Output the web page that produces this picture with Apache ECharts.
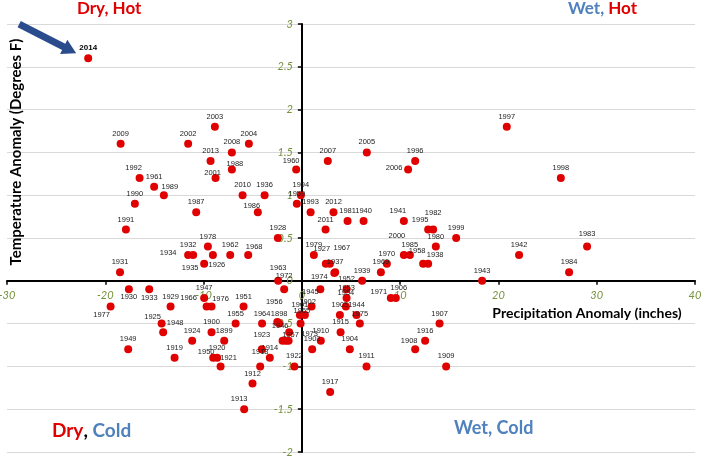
<!DOCTYPE html>
<html><head><meta charset="utf-8">
<script src="https://cdn.jsdelivr.net/npm/echarts@6/dist/echarts.min.js"></script>
<style>html,body{margin:0;padding:0;background:#fff;}#c{width:702px;height:458px;}</style>
</head><body><div id="c"></div>
<script>
// ---- data ----
const years = [1895,1896,1898,1899,1900,1901,1902,1903,1904,1905,1906,1907,1908,1909,1910,1911,1912,1913,1914,1915,1916,1917,1918,1919,1920,1921,1922,1923,1924,1925,1926,1927,1928,1929,1930,1931,1932,1933,1934,1935,1936,1937,1938,1939,1940,1941,1942,1943,1944,1945,1946,1947,1948,1949,1950,1951,1952,1953,1954,1955,1956,1957,1958,1959,1960,1961,1962,1963,1964,1965,1966,1967,1968,1969,1970,1971,1972,1973,1974,1975,1976,1977,1978,1979,1980,1981,1982,1983,1984,1985,1986,1987,1988,1989,1990,1991,1992,1993,1994,1995,1996,1997,1998,1999,2000,2001,2002,2003,2004,2005,2006,2007,2008,2009,2010,2011,2012,2013,2014];
const precipAnomaly = [-1.96,-1.63,-2.31,-7.90,-9.19,-0.20,0.99,1.05,4.88,3.87,9.56,14.01,11.53,14.68,1.93,6.58,-5.02,-5.87,-3.26,3.94,12.54,2.88,-4.24,-12.95,-8.62,-8.27,-0.76,-4.07,-11.16,-14.27,-9.05,2.44,-2.44,-13.36,-17.60,-18.50,-11.57,-15.53,-11.06,-9.94,-3.79,3.39,12.85,6.13,6.28,10.38,22.10,18.34,5.56,1.88,-1.29,-9.94,-14.11,-17.67,-9.02,-5.93,4.55,4.55,4.48,-6.74,-2.50,-1.35,12.34,-0.51,-0.58,-15.03,-7.29,-2.41,-4.05,0.31,-9.69,2.85,-5.46,8.04,8.65,9.05,-1.80,-0.13,3.30,5.90,-9.19,-19.46,-9.56,1.22,13.63,4.65,13.36,29.02,27.19,10.99,-4.48,-10.75,-7.12,-14.04,-16.99,-17.90,-16.51,0.89,-0.10,12.85,11.53,20.85,26.35,15.70,10.38,-8.78,-11.57,-8.85,-5.39,6.61,10.81,2.64,-7.12,-18.44,-6.03,2.41,3.22,-9.29,-21.74];
const tempAnomaly = [-0.7,-0.7,-0.5,-0.7,-0.6,-0.4,-0.3,-0.8,-0.8,-0.4,-0.2,-0.5,-0.8,-1.0,-0.7,-1.0,-1.2,-1.5,-0.9,-0.6,-0.7,-1.3,-1.0,-0.9,-0.9,-1.0,-1.0,-0.8,-0.7,-0.5,0.3,0.2,0.5,-0.3,-0.1,0.1,0.3,-0.1,0.3,0.2,1.0,0.1,0.2,0.0,0.7,0.7,0.3,0.0,-0.4,-0.1,-0.6,-0.2,-0.6,-0.8,-0.9,-0.3,-0.1,-0.2,-0.3,-0.5,-0.48,-0.7,0.2,0.9,1.3,1.1,0.3,0.0,-0.5,-0.4,-0.3,0.2,0.3,0.1,0.2,-0.2,-0.1,-0.5,0.09,-0.5,-0.3,-0.3,0.4,0.3,0.4,0.7,0.6,0.4,0.1,0.3,0.8,0.8,1.3,1.0,0.9,0.6,1.2,0.8,1.0,0.6,1.4,1.8,1.2,0.5,0.3,1.2,1.6,1.8,1.6,1.5,1.3,1.4,1.5,1.6,1.0,0.6,0.8,1.4,2.6];
const xTickValues = [-30,-20,-10,0,10,20,30,40];
const yTickValues = [-2,-1.5,-1,-0.5,0,0.5,1,1.5,2,2.5,3];
const xTitle = 'Precipitation Anomaly (inches)';
const yTitle = 'Temperature Anomaly (Degrees F)';

// ---- label placement tweaks (style only) ----
const hiddenLabels = [1895,1896];
const labelNudge = {
  1934:[-25,8],1926:[4,20],1935:[-14,14],1977:[-9,18],1966:[-18,1],1976:[9,2],1948:[12,1],1925:[-9,3],
  1930:[0,18],1933:[0,19],1950:[-7,4],1921:[8,2],1923:[0,-4],1918:[0,-4],1913:[-5,0],1956:[-3,-10],
  1946:[-9,4],1957:[2,4],1945:[-10,13],1902:[-4,5],1965:[-3,6],1973:[9,20],1974:[-15,14],1927:[-4,-5],
  1967:[12,-6],1954:[0,-4],1971:[-12,4],1906:[3,0],2000:[-7,-9],1958:[-6,-3],1938:[7,1],1995:[-8,0],
  1982:[0,-7],1941:[-6,0],2006:[-14,8],1960:[-5,1],1986:[-6,4],1988:[3,4],2001:[-3,5],1989:[6,2],
  1992:[-6,0],1968:[6,2],1983:[0,-3],1908:[-6,2],1963:[0,-3],1972:[0,-3]
};

const RED = '#e00000', BLUE = '#4f81bd', GREEN = '#76923c';
const W = 702, H = 458;
const G = { left: 7, right: 7, top: 24, bottom: 6 };
const xMin = xTickValues[0], xMax = xTickValues[xTickValues.length - 1];
const yMin = yTickValues[0], yMax = yTickValues[yTickValues.length - 1];
const gridW = W - G.left - G.right, gridH = H - G.top - G.bottom;
// axes cross at zero: shift the axis lines inward from the grid edges
const xAxisOffset = -gridH * (0 - yMin) / (yMax - yMin);
const yAxisOffset = -gridW * (0 - xMin) / (xMax - xMin);

const data = years.map((yr, i) => {
  const item = { value: [precipAnomaly[i], tempAnomaly[i], yr] };
  const lbl = {};
  if (hiddenLabels.includes(yr)) lbl.show = false;
  if (labelNudge[yr]) lbl.offset = labelNudge[yr];
  if (yr === 2014) { lbl.fontWeight = 'bold'; lbl.fontSize = 8; lbl.color = '#000'; }
  if (Object.keys(lbl).length) item.label = lbl;
  return item;
});

const chart = echarts.init(document.getElementById('c'), null, { renderer: 'canvas' });
const axisLabelStyle = { color: GREEN, fontStyle: 'italic', fontFamily: 'Lato', fontSize: 11 };
chart.setOption({
  animation: false,
  backgroundColor: '#ffffff',
  grid: Object.assign({ containLabel: false, outerBoundsMode: 'none' }, G),
  xAxis: {
    type: 'value', min: xMin, max: xMax, interval: 10, position: 'bottom', offset: xAxisOffset,
    axisLine: { onZero: false, lineStyle: { color: '#000', width: 2 } },
    axisTick: { show: true, inside: false, length: 4, lineStyle: { color: '#000', width: 1.5 } },
    axisLabel: Object.assign({ margin: 9 }, axisLabelStyle),
    splitLine: { show: false }
  },
  yAxis: {
    type: 'value', min: yMin, max: yMax, interval: 0.5, position: 'left', offset: yAxisOffset,
    axisLine: { onZero: false, lineStyle: { color: '#000', width: 2 } },
    axisTick: { show: true, inside: false, length: 4, lineStyle: { color: '#000', width: 1.5 } },
    axisLabel: Object.assign({ margin: 9 }, axisLabelStyle),
    splitLine: { show: true, lineStyle: { color: '#d9d9d9', width: 1 } }
  },
  series: [{
    type: 'scatter', symbol: 'circle', symbolSize: 8,
    itemStyle: { color: RED, opacity: 1 },
    emphasis: { disabled: true },
    label: {
      show: true, position: 'top', distance: 2,
      formatter: p => String(p.value[2]),
      fontSize: 7.5, color: '#222', fontFamily: 'Liberation Sans'
    },
    data: data, z: 3
  }]
});

// ---- annotations ----
const i14 = years.indexOf(2014);
const p14 = chart.convertToPixel({ gridIndex: 0 }, [precipAnomaly[i14], tempAnomaly[i14]]);
const tail = [p14[0] - 69, p14[1] - 34];
const tip = [p14[0] - 12, p14[1] - 5];
const dx = tip[0] - tail[0], dy = tip[1] - tail[1];
const L = Math.hypot(dx, dy), ux = dx / L, uy = dy / L, nx = -uy, ny = ux;
const headLen = 14, headW = 8, shaftW = 3.5;
const base = [tip[0] - ux * headLen, tip[1] - uy * headLen];
const arrowPts = [
  [tail[0] + nx * shaftW, tail[1] + ny * shaftW],
  [base[0] + nx * shaftW, base[1] + ny * shaftW],
  [base[0] + nx * headW, base[1] + ny * headW],
  tip,
  [base[0] - nx * headW, base[1] - ny * headW],
  [base[0] - nx * shaftW, base[1] - ny * shaftW],
  [tail[0] - nx * shaftW, tail[1] - ny * shaftW]
];

const bold = (fill, size) => ({ fill: fill, fontFamily: 'Lato', fontWeight: 'bold', fontSize: size });
chart.setOption({
  graphic: [
    { type: 'polygon', shape: { points: arrowPts }, style: { fill: '#2b4c8c' }, z: 10 },
    { type: 'text', x: 587, y: 313, style: Object.assign({ text: xTitle, textAlign: 'center', textVerticalAlign: 'middle' }, bold('#000', 14)), z: 10 },
    { type: 'text', x: 16, y: 152, rotation: Math.PI / 2, style: Object.assign({ text: yTitle, textAlign: 'center', textVerticalAlign: 'middle' }, bold('#000', 15)), z: 10 },
    { type: 'text', x: 77, y: 9, style: Object.assign({ text: 'Dry, Hot', textVerticalAlign: 'middle' }, bold(RED, 17)), z: 10 },
    { type: 'text', x: 568, y: 9, style: Object.assign({ text: '{b|Wet, }{r|Hot}', textVerticalAlign: 'middle',
        rich: { b: bold(BLUE, 17), r: bold(RED, 17) } }, bold(BLUE, 17)), z: 10 },
    { type: 'text', x: 52, y: 431, style: Object.assign({ text: '{r|Dry}{k|, }{b|Cold}', textVerticalAlign: 'middle',
        rich: { r: bold(RED, 19), k: bold('#000', 19), b: bold(BLUE, 19) } }, bold(RED, 19)), z: 10 },
    { type: 'text', x: 454, y: 428, style: Object.assign({ text: 'Wet, Cold', textVerticalAlign: 'middle' }, bold(BLUE, 18)), z: 10 }
  ]
});
</script>
</body></html>
